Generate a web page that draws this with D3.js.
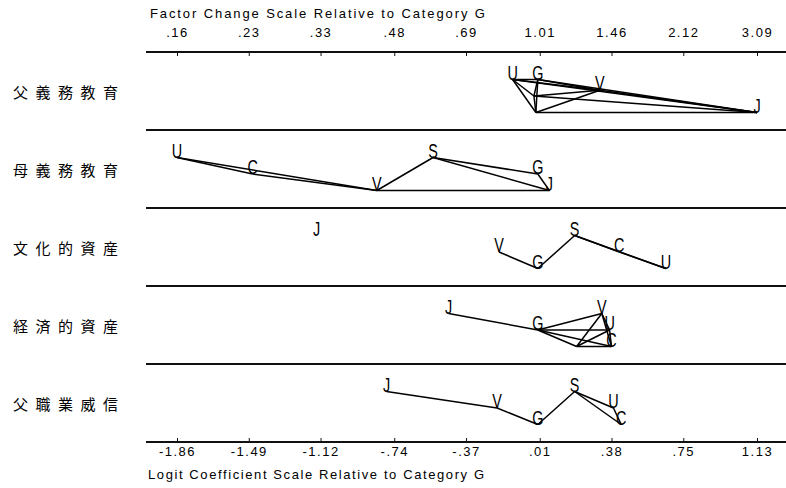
<!DOCTYPE html>
<html>
<head>
<meta charset="utf-8">
<script src="https://cdn.jsdelivr.net/npm/d3@7"></script>
<style>
  body { margin: 0; background: #fff; }
  text { font-family: "Liberation Sans", Arial, sans-serif; fill: #000; }
</style>
</head>
<body>
<div id="chart"></div>
<script>
// ---------------- DATA ----------------
const rowNames = ["父義務教育", "母義務教育", "文化的資産", "経済的資産", "父職業威信"];

const logitTicks  = [-1.86, -1.49, -1.12, -0.74, -0.37, 0.01, 0.38, 0.75, 1.13];
const logitLabels = ["-1.86", "-1.49", "-1.12", "-.74", "-.37", ".01", ".38", ".75", "1.13"];
const factorLabels = [".16", ".23", ".33", ".48", ".69", "1.01", "1.46", "2.12", "3.09"];

// b = logit coefficient relative to G, lv = stagger level, hide = letter covered by lines
const fatherEdu = [
  {cat: "U", b: -0.13, lv: 1},
  {cat: "S", b: -0.02, lv: 2, hide: true},
  {cat: "C", b: -0.01, lv: 3, hide: true},
  {cat: "G", b: 0,     lv: 1},
  {cat: "V", b: 0.32,  lv: 1.65},
  {cat: "J", b: 1.13,  lv: 3}
];
const motherEdu = [
  {cat: "U", b: -1.86, lv: 1},
  {cat: "C", b: -1.47, lv: 2},
  {cat: "V", b: -0.83, lv: 3},
  {cat: "S", b: -0.54, lv: 1},
  {cat: "G", b: 0,     lv: 2},
  {cat: "J", b: 0.06,  lv: 3}
];
const cultural = [
  {cat: "J", b: -1.14, lv: 1},
  {cat: "V", b: -0.20, lv: 2},
  {cat: "G", b: 0,     lv: 3},
  {cat: "S", b: 0.19,  lv: 1},
  {cat: "C", b: 0.42,  lv: 2},
  {cat: "U", b: 0.66,  lv: 3}
];
const economic = [
  {cat: "J", b: -0.46, lv: 1},
  {cat: "G", b: 0,     lv: 2},
  {cat: "S", b: 0.20,  lv: 3, hide: true},
  {cat: "V", b: 0.33,  lv: 1},
  {cat: "U", b: 0.37,  lv: 2},
  {cat: "C", b: 0.38,  lv: 3}
];
const fatherOcc = [
  {cat: "J", b: -0.78, lv: 1},
  {cat: "V", b: -0.21, lv: 2},
  {cat: "G", b: 0,     lv: 3},
  {cat: "S", b: 0.19,  lv: 1},
  {cat: "U", b: 0.39,  lv: 2},
  {cat: "C", b: 0.43,  lv: 3}
];

// pairs joined by a line (contrast not significant)
const fatherEduLinks = [["U","S"],["U","C"],["U","G"],["U","V"],["U","J"],["S","C"],["S","G"],["S","V"],
                        ["S","J"],["C","G"],["C","V"],["C","J"],["G","V"],["G","J"],["V","J"]];
const motherEduLinks = [["U","C"],["C","V"],["U","V"],["V","S"],["S","G"],["S","J"],["G","J"],["V","J"]];
const culturalLinks  = [["V","G"],["G","S"],["S","C"],["C","U"],["S","U"]];
const economicLinks  = [["J","G"],["G","S"],["G","V"],["G","U"],["G","C"],["S","V"],["S","U"],["S","C"],
                        ["V","U"],["V","C"],["U","C"]];
const fatherOccLinks = [["J","V"],["V","G"],["G","S"],["S","U"],["S","C"],["U","C"]];

const panels = [
  {name: rowNames[0], pts: fatherEdu, links: fatherEduLinks},
  {name: rowNames[1], pts: motherEdu, links: motherEduLinks},
  {name: rowNames[2], pts: cultural,  links: culturalLinks},
  {name: rowNames[3], pts: economic,  links: economicLinks},
  {name: rowNames[4], pts: fatherOcc, links: fatherOccLinks}
];

// ---------------- LAYOUT ----------------
const width = 786, height = 488;
const svg = d3.select("#chart").append("svg")
  .attr("width", width).attr("height", height);

const x = d3.scaleLinear().domain([-1.86, 1.13]).range([177, 757]);
const band = d3.scaleBand().domain(rowNames).range([52, 442]);
const lvl = d3.scaleLinear().domain([1, 3]).range([27.5, 60.5]);

// separators + axis lines
const sepY = rowNames.map(d => band(d)).concat([band.range()[1]]);
svg.selectAll("line.sep").data(sepY).enter().append("line")
  .attr("class", "sep")
  .attr("x1", 146).attr("x2", width)
  .attr("y1", d => d).attr("y2", d => d)
  .attr("stroke", "#111").attr("stroke-width", 2);

// ---------------- AXES ----------------
const topAxis = svg.append("g")
  .attr("transform", `translate(0,${sepY[0]})`)
  .call(d3.axisTop(x).tickValues(logitTicks)
    .tickFormat((d, i) => factorLabels[i])
    .tickSize(-4).tickSizeOuter(0).tickPadding(15));

const bottomAxis = svg.append("g")
  .attr("transform", `translate(0,${sepY[sepY.length - 1]})`)
  .call(d3.axisBottom(x).tickValues(logitTicks)
    .tickFormat((d, i) => logitLabels[i])
    .tickSize(-4).tickSizeOuter(0).tickPadding(5));

[topAxis, bottomAxis].forEach(g => {
  g.select(".domain").remove();
  g.selectAll(".tick line").attr("stroke", "#111");
  g.selectAll(".tick text")
    .style("font-family", "'Liberation Sans', Arial, sans-serif")
    .style("font-size", "13px")
    .style("letter-spacing", "1.5px")
    .attr("fill", "#000");
});

svg.append("text")
  .attr("x", 150).attr("y", 18)
  .attr("textLength", 335).attr("lengthAdjust", "spacing")
  .style("font-size", "13px")
  .text("Factor Change Scale Relative to Category G");

svg.append("text")
  .attr("x", 148).attr("y", 479)
  .attr("textLength", 336).attr("lengthAdjust", "spacing")
  .style("font-size", "13px")
  .text("Logit Coefficient Scale Relative to Category G");

// ---------------- ROW LABELS ----------------
svg.selectAll("text.row").data(rowNames).enter().append("text")
  .attr("class", "row")
  .attr("x", 13)
  .attr("y", d => band(d) + band.bandwidth() / 2)
  .attr("dominant-baseline", "central")
  .attr("textLength", 105).attr("lengthAdjust", "spacing")
  .style("font-family", "'Noto Sans CJK JP', sans-serif")
  .style("font-size", "15px")
  .text(d => d);

// ---------------- PANELS ----------------
panels.forEach(p => {
  const g = svg.append("g").attr("transform", `translate(0,${band(p.name)})`);
  const byCat = {};
  p.pts.forEach(d => byCat[d.cat] = d);

  g.selectAll("line.link").data(p.links).enter().append("line")
    .attr("class", "link")
    .attr("x1", d => x(byCat[d[0]].b)).attr("y1", d => lvl(byCat[d[0]].lv))
    .attr("x2", d => x(byCat[d[1]].b)).attr("y2", d => lvl(byCat[d[1]].lv))
    .attr("stroke", "#000").attr("stroke-width", 1.5);

  g.selectAll("text.cat").data(p.pts.filter(d => !d.hide)).enter().append("text")
    .attr("class", "cat")
    .attr("transform", d => `translate(${x(d.b)},${lvl(d.lv)}) scale(0.72,1)`)
    .attr("text-anchor", "middle")
    .style("font-size", "20px")
    .text(d => d.cat);
});
</script>
</body>
</html>
